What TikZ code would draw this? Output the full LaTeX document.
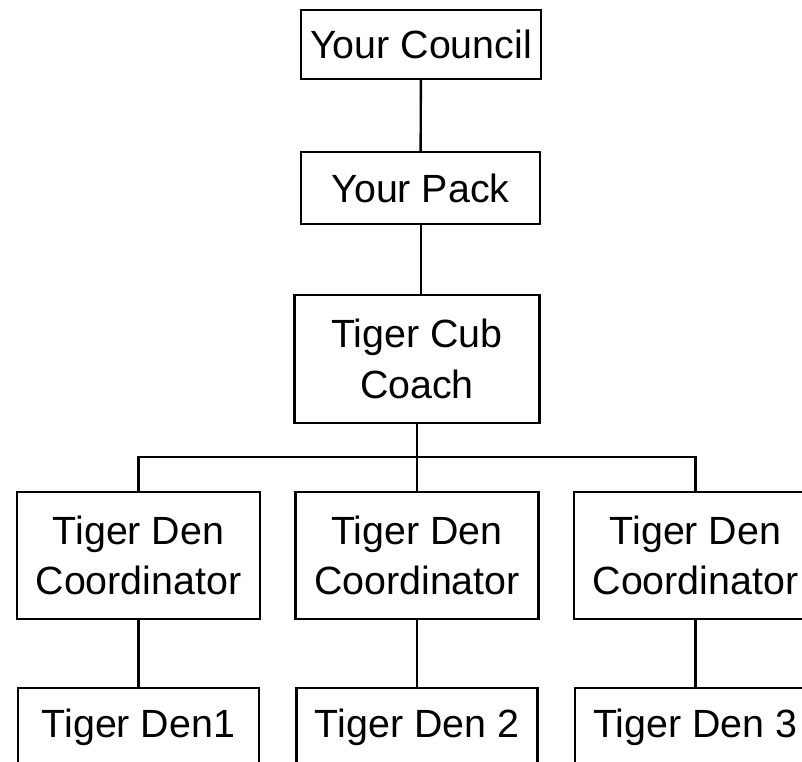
\documentclass[tikz,border=0pt]{standalone}
\usepackage{fontspec}
\setmainfont{Liberation Sans}
\begin{document}
\begin{tikzpicture}[x=0.025cm,y=-0.025cm,
  box/.style={draw,line width=1.7pt,inner sep=0pt,outer sep=0pt,align=center,
    font=\fontsize{28}{36}\selectfont},
  link/.style={line width=1.7pt}]
  \clip (0,0) rectangle (802,762);
  \node[box,minimum width=6cm,minimum height=1.725cm] (council) at (421,44.5) {Your Council};
  \node[box,minimum width=5.975cm,minimum height=1.8cm] (pack) at (420.5,188) {Your Pack};
  \node[box,minimum width=6.125cm,minimum height=3.2cm] (coach) at (417,359) {Tiger Cub\\Coach};
  \node[box,minimum width=6.075cm,minimum height=3.175cm] (coordA) at (138.5,555.5) {Tiger Den\\Coordinator};
  \node[box,minimum width=6.075cm,minimum height=3.175cm] (coordB) at (417,555.5) {Tiger Den\\Coordinator};
  \node[box,minimum width=6.075cm,minimum height=3.175cm] (coordC) at (695.5,555.5) {Tiger Den\\Coordinator};
  \node[box,minimum width=6.025cm,minimum height=1.95cm] (denA) at (138.5,727) {Tiger Den1};
  \node[box,minimum width=6.025cm,minimum height=1.95cm] (denB) at (417,727) {Tiger Den 2};
  \node[box,minimum width=6.025cm,minimum height=1.95cm] (denC) at (695.5,727) {Tiger Den 3};
  \coordinate (bus) at (417,457);
  \draw[link] (council) -- (pack);
  \draw[link] (pack.south -| council.south) -- (coach.north -| council.south);
  \draw[link] (coach.south) -- (bus);
  \draw[link] (coordA.north) |- (bus) -| (coordC.north);
  \draw[link] (bus) -- (coordB.north);
  \draw[link] (coordA) -- (denA);
  \draw[link] (coordB) -- (denB);
  \draw[link] (coordC) -- (denC);
\end{tikzpicture}
\end{document}
